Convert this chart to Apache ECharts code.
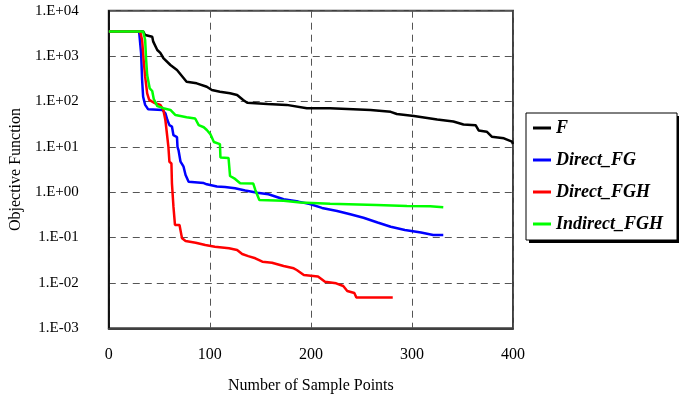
<!DOCTYPE html>
<html>
<head>
<meta charset="utf-8">
<script src="https://cdn.jsdelivr.net/npm/echarts@6/dist/echarts.min.js"></script>
<style>
html,body{margin:0;padding:0;background:#fff;}
#chart{width:679px;height:405px;}
</style>
</head>
<body>
<div id="chart"></div>
<script>
var seriesNames = ['F', 'Direct_FG', 'Direct_FGH', 'Indirect_FGH'];
var xTicks = [0, 100, 200, 300, 400];

var fX = [0, 34, 36, 43, 44, 48, 51, 54, 61, 67.5, 77, 87, 97, 102, 110, 120, 127, 133, 137, 157, 176, 196, 219, 259, 279, 285, 302, 325, 341, 351, 363, 366, 374, 379, 391, 399, 400];
var fY = [3500, 3500, 2900, 2670, 2080, 1360, 1170, 906, 636, 493, 272, 251, 211, 179, 164, 151, 139, 108, 94, 88, 84, 71, 71, 65, 59, 53, 48, 40, 36, 31, 30, 23, 21.5, 16.7, 15.4, 13, 11.5];

var fgX = [0, 30, 32, 33, 34, 36, 39, 53, 56, 58, 60, 62.5, 64, 67.5, 68, 69, 71, 74, 76, 79, 94, 97, 107, 115, 125, 135, 147, 158, 173, 187.5, 199, 211, 226, 239, 252, 266, 279, 293, 309, 321, 331];
var fgY = [3500, 3500, 1150, 297, 127, 84, 67, 65, 55, 39, 30, 28, 18, 16.4, 10, 8.5, 4.7, 3.65, 2.4, 1.7, 1.59, 1.49, 1.33, 1.3, 1.22, 1.09, 0.975, 0.9, 0.7, 0.62, 0.55, 0.45, 0.385, 0.325, 0.274, 0.215, 0.173, 0.147, 0.129, 0.114, 0.114];

var fghX = [0, 31, 33, 34.5, 36, 38, 40, 43, 46, 51, 54, 56, 57.5, 59, 60, 62, 62.5, 64, 65.5, 70, 72.5, 76, 86, 95.5, 105, 119, 127, 132, 138, 145, 152, 161.5, 173, 183, 186, 193, 207, 214, 225, 232, 236, 243, 245, 281];
var fghY = [3500, 3500, 2260, 818, 351, 151, 108, 99, 91, 84, 65, 39, 19.9, 10, 4.7, 4.3, 1.57, 0.48, 0.19, 0.19, 0.096, 0.084, 0.077, 0.0685, 0.063, 0.058, 0.053, 0.0434, 0.039, 0.0349, 0.0294, 0.0279, 0.0236, 0.021, 0.0193, 0.015, 0.0139, 0.0106, 0.0098, 0.00855, 0.00663, 0.006, 0.00478, 0.00478];

var ifghX = [0, 34, 36, 37, 38, 40.5, 43, 44.5, 48, 54, 61, 66, 77, 85.5, 89, 94, 97, 100.5, 104, 110, 110.5, 118.5, 120, 125, 130, 143, 145, 149, 173, 189.5, 219, 265, 295, 318, 331];
var ifghY = [3500, 3500, 2260, 818, 383, 195, 170, 113, 79, 71, 65, 50, 45, 42, 30, 27, 23.5, 19.1, 12.8, 11.5, 5.8, 5.7, 2.27, 1.96, 1.58, 1.55, 1.12, 0.673, 0.649, 0.593, 0.557, 0.521, 0.495, 0.49, 0.465];

var colors = ['#000000', '#0000ff', '#ff0000', '#00ff00'];

function pairs(xs, ys) {
  var out = [];
  for (var i = 0; i < xs.length; i++) out.push([xs[i], ys[i]]);
  return out;
}
var allData = [pairs(fX, fY), pairs(fgX, fgY), pairs(fghX, fghY), pairs(ifghX, ifghY)];

var FONT = 'Liberation Serif';

function expLabel(v) {
  var e = Math.round(Math.log10(v));
  var s = e >= 0 ? '+' : '-';
  var a = Math.abs(e);
  return '1.E' + s + (a < 10 ? '0' : '') + a;
}

var chart = echarts.init(document.getElementById('chart'));
chart.setOption({
  animation: false,
  backgroundColor: '#ffffff',
  grid: {
    left: 108.5, top: 10.7, right: 166, bottom: 76.7,
    show: true, borderColor: '#404040', borderWidth: 2, backgroundColor: 'transparent'
  },
  graphic: [{
    type: 'rect', z: 0, silent: true,
    shape: { x: 529, y: 116, width: 150, height: 127 },
    style: { fill: '#000000' }
  }],
  legend: {
    orient: 'vertical',
    left: 526, top: 113,
    data: seriesNames,
    icon: 'rect',
    itemWidth: 18, itemHeight: 3,
    itemGap: 12,
    padding: [5, 14, 6, 7],
    backgroundColor: '#ffffff',
    borderColor: '#000000', borderWidth: 1,
    z: 10,
    textStyle: { fontFamily: FONT, fontSize: 18, fontWeight: 'bold', fontStyle: 'italic', color: '#000', lineHeight: 20 }
  },
  xAxis: {
    type: 'value', min: 0, max: 400, interval: 100,
    name: 'Number of Sample Points', nameLocation: 'middle', nameGap: 49,
    nameTextStyle: { fontFamily: FONT, fontSize: 16, color: '#000' },
    axisLine: { show: true, lineStyle: { color: '#404040', width: 2 } },
    axisTick: { show: false },
    axisLabel: { fontFamily: FONT, fontSize: 16, color: '#000', margin: 18,
      formatter: function (v) { return xTicks.indexOf(v) >= 0 ? String(v) : ''; } },
    splitLine: { show: true, lineStyle: { color: '#555', width: 1, type: [7, 5] } }
  },
  yAxis: {
    type: 'log', logBase: 10, min: 0.001, max: 10000, splitNumber: 7,
    name: 'Objective Function', nameLocation: 'middle', nameGap: 80, nameRotate: 90,
    nameTextStyle: { fontFamily: FONT, fontSize: 16, color: '#000' },
    axisLine: { show: true, lineStyle: { color: '#000', width: 1.5 } },
    axisTick: { show: false },
    axisLabel: { fontFamily: FONT, fontSize: 15, color: '#000', margin: 30, formatter: expLabel },
    splitLine: { show: true, lineStyle: { color: '#555', width: 1, type: [7, 5] } }
  },
  series: allData.map(function (d, i) {
    return {
      name: seriesNames[i], type: 'line', data: d,
      showSymbol: false, symbol: 'none',
      lineStyle: { color: colors[i], width: 2.5 },
      itemStyle: { color: colors[i] },
      z: 2 + i
    };
  })
});
</script>
</body>
</html>
